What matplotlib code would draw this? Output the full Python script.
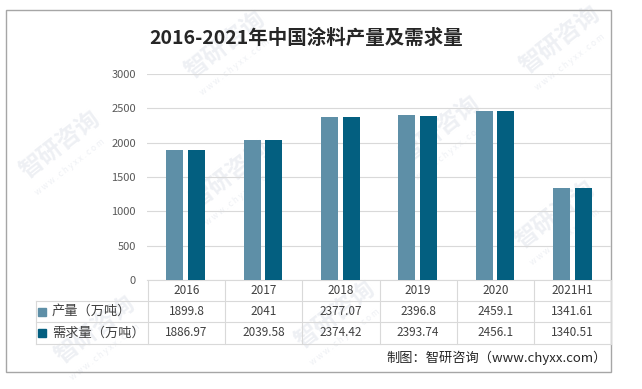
import matplotlib.pyplot as plt
import numpy as np
from matplotlib.patches import Rectangle

plt.rcParams['font.family'] = ['Noto Sans CJK SC', 'DejaVu Sans']

years = ['2016', '2017', '2018', '2019', '2020', '2021H1']
output = [1899.8, 2041, 2377.07, 2396.8, 2459.1, 1341.61]
demand = [1886.97, 2039.58, 2374.42, 2393.74, 2456.1, 1340.51]
output_labels = ['1899.8', '2041', '2377.07', '2396.8', '2459.1', '1341.61']
demand_labels = ['1886.97', '2039.58', '2374.42', '2393.74', '2456.1', '1340.51']
series_names = ['产量（万吨）', '需求量（万吨）']
yticks = [0, 500, 1000, 1500, 2000, 2500, 3000]

c_light = '#5e8fa7'
c_dark = '#035f80'
W, H = 642, 389

fig = plt.figure(figsize=(W / 100, H / 100), dpi=100)

# overlay axes in pixel coords for border, table, watermark
ov = fig.add_axes([0, 0, 1, 1])
ov.set_xlim(0, W)
ov.set_ylim(H, 0)
ov.axis('off')

# watermarks
marks = [(60, 145), (225, 45), (230, 175), (440, 130), (560, 40),
         (555, 215), (95, 330), (335, 315)]
for mx, my in marks:
    ov.text(mx, my, '智研咨询', fontsize=17, fontweight='bold', color='#eef0f4',
            rotation=38, ha='center', va='center', zorder=0)
    ov.text(mx + 10, my + 22, 'w w w . c h y x x . c o m', fontsize=6, color='#eef0f4',
            rotation=38, ha='center', va='center', zorder=0)

ov.add_patch(Rectangle((6, 10), 605, 362, fill=False, edgecolor='#a6a6a6', lw=1, zorder=1))

ax = fig.add_axes([147 / W, 1 - 280 / H, 464 / W, 206 / H])
ax.patch.set_alpha(0)
x = np.arange(len(years))
bw = 0.22
ax.bar(x - 0.142, output, bw, color=c_light, zorder=3)
ax.bar(x + 0.142, demand, bw, color=c_dark, zorder=3)
ax.set_xlim(-0.5, len(years) - 0.5)
ax.set_ylim(0, 3000)
ax.set_yticks(yticks)
ax.set_yticklabels([str(t) for t in yticks], fontsize=8, color='#595959')
ax.set_xticks([])
ax.grid(axis='y', color='#d9d9d9', lw=0.8, zorder=0)
for s in ['top', 'right', 'left']:
    ax.spines[s].set_visible(False)
ax.spines['bottom'].set_color('#d9d9d9')
ax.tick_params(axis='y', length=0, pad=8)

ax.set_title('2016-2021年中国涂料产量及需求量', fontsize=14, fontweight='bold',
             color='#262626', x=(306 - 147) / 464, y=1 + 36 / 206, va='center', pad=0)

# data table
x0, x1 = 148, 611
colw = (x1 - x0) / len(years)
rows = [281, 301, 322, 344]
lc = '#d9d9d9'
for k in range(len(years) + 1):
    ov.plot([x0 + k * colw] * 2, [rows[0], rows[3]], color=lc, lw=0.8)
ov.plot([36, 36], [rows[1], rows[3]], color=lc, lw=0.8)
for r in rows[1:]:
    ov.plot([36, x1], [r, r], color=lc, lw=0.8)

tc = '#404040'
for i, yr in enumerate(years):
    cx = x0 + (i + 0.5) * colw
    ov.text(cx, (rows[0] + rows[1]) / 2, yr, fontsize=8.5, color=tc, ha='center', va='center')
    ov.text(cx, (rows[1] + rows[2]) / 2, output_labels[i], fontsize=8.5, color=tc, ha='center', va='center')
    ov.text(cx, (rows[2] + rows[3]) / 2, demand_labels[i], fontsize=8.5, color=tc, ha='center', va='center')

for j, (name, col) in enumerate(zip(series_names, [c_light, c_dark])):
    cy = (rows[j + 1] + rows[j + 2]) / 2
    ov.add_patch(Rectangle((38, cy - 4), 8, 8, color=col))
    ov.text(52, cy, name, fontsize=9.5, color=tc, ha='left', va='center')

ov.text(607, 358, '制图：智研咨询（www.chyxx.com）', fontsize=9.5, color='#262626',
        ha='right', va='center')

fig.savefig('out.png', dpi=100)
